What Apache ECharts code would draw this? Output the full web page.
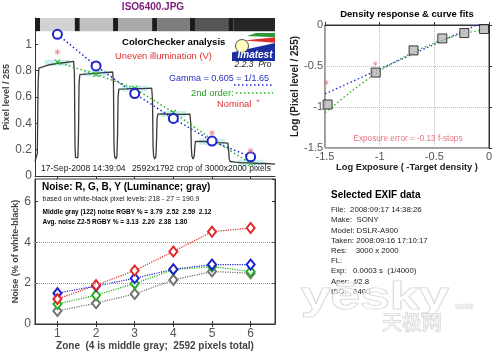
<!DOCTYPE html>
<html>
<head>
<meta charset="utf-8">
<script src="https://cdn.jsdelivr.net/npm/echarts@6/dist/echarts.min.js"></script>
<style>
html,body{margin:0;padding:0;background:#fff;}
#chart{width:500px;height:352px;}
</style>
</head>
<body>
<div id="chart"></div>
<script>
// ---- data ----
const zones = [1, 2, 3, 4, 5, 6];
// top-left: pixel level / 255
const gammaPts = [1.076, 0.836, 0.626, 0.437, 0.265, 0.146];
const secondPts = [0.864, 0.773, 0.664, 0.482, 0.278, 0.096];
const nominalPts = [0.942, null, null, null, 0.328, 0.192];
const patchLevels = [0.86, 0.78, 0.665, 0.47, 0.26, 0.10];
const profile = [
  [0.42,0.11],[0.45,0.12],[0.48,0.17],[0.50,0.70],[0.52,0.82],[0.56,0.835],[0.8,0.845],[1.0,0.855],[1.2,0.862],[1.42,0.87],
  [1.44,0.78],[1.455,0.22],[1.47,0.14],[1.50,0.125],[1.53,0.14],[1.545,0.30],[1.56,0.70],[1.58,0.77],[1.8,0.775],[2.0,0.78],[2.2,0.785],[2.43,0.79],
  [2.45,0.70],[2.465,0.22],[2.48,0.15],[2.51,0.13],[2.54,0.15],[2.555,0.30],[2.57,0.60],[2.59,0.66],[2.8,0.662],[3.0,0.665],[3.2,0.664],[3.44,0.667],
  [3.46,0.58],[3.475,0.22],[3.49,0.15],[3.52,0.13],[3.55,0.15],[3.565,0.28],[3.58,0.44],[3.60,0.47],[3.8,0.472],[4.0,0.47],[4.2,0.468],[4.43,0.47],
  [4.45,0.40],[4.465,0.22],[4.48,0.15],[4.51,0.13],[4.54,0.15],[4.555,0.22],[4.57,0.262],[4.8,0.262],[5.0,0.258],[5.2,0.254],[5.41,0.25],
  [5.43,0.20],[5.445,0.13],[5.47,0.11],[5.6,0.105],[5.8,0.10],[6.0,0.10],[6.2,0.095],[6.4,0.095],[6.63,0.09]
];
// gray strip on top (zone units)
const stripEdges = [0.42, 0.55, 1.45, 1.58, 2.44, 2.57, 3.45, 3.58, 4.43, 4.56, 5.42, 5.55, 6.63];
const stripGrays = ['#1c1c1c','#d2d2d2','#1c1c1c','#c0c0c0','#1c1c1c','#a9a9a9','#1c1c1c','#7e7e7e','#1c1c1c','#565656','#1c1c1c','#262626'];

// noise (% of white-black)
const noiseR = [1.22, 1.90, 2.62, 3.55, 4.52, 4.70];
const noiseB = [1.51, 1.86, 2.24, 2.68, 2.91, 2.91];
const noiseG = [0.98, 1.41, 1.98, 2.66, 2.81, 2.57];
const noiseY = [0.64, 1.02, 1.47, 2.16, 2.57, 2.49];
const noiseGrid = [2, 4];

// density response
const densX = [-1.476, -1.036, -0.69, -0.427, -0.226, -0.045];
const densY = [-0.97, -0.58, -0.31, -0.164, -0.098, -0.049];
const densNominal = [[-1.49, -0.70], [-1.04, -0.47]];
const densGamma = [[-1.5, -0.84], [0, 0.067]];
const densSecond = [[-1.5,-1.07],[-1.25,-0.80],[-1.0,-0.56],[-0.75,-0.37],[-0.5,-0.22],[-0.25,-0.11],[0,-0.045]];

const exifLines = [
  'File:  2008:09:17 14:38:26',
  'Make:  SONY',
  'Model: DSLR-A900',
  'Taken: 2008:09:16 17:10:17',
  'Res:    3000 x 2000',
  'FL:',
  'Exp:   0.0003 s  (1/4000)',
  'Aper:  f/2.8',
  'ISO:   6400'
];

// ---- chart ----
const FONT = 'Liberation Sans, Arial, sans-serif';
const ASTER = 'path://M4.4,0h1.2v10h-1.2z M0,4.4h10v1.2h-10z M0.9,1.7L1.7,0.9L9.1,8.3L8.3,9.1z M0.9,8.3L8.3,0.9L9.1,1.7L1.7,9.1z';
const XMARK = 'path://M0,1.2L1.2,0L10,8.8L8.8,10z M0,8.8L8.8,0L10,1.2L1.2,10z';

function txt(x, y, s, font, fill, align, extra) {
  const el = {
    type: 'text', x: x, y: y, z: 100, silent: true,
    style: { text: s, font: font, fill: fill || '#000', textAlign: align || 'left', textVerticalAlign: 'middle' }
  };
  if (extra) {
    Object.assign(el.style, extra.style || {});
    delete extra.style;
    Object.assign(el, extra);
  }
  return el;
}

const chart = echarts.init(document.getElementById('chart'), null, { renderer: 'canvas' });

const stripAreas = [];
for (let i = 0; i < stripGrays.length; i++) {
  stripAreas.push([
    { xAxis: stripEdges[i], yAxis: 1.1, itemStyle: { color: stripGrays[i] } },
    { xAxis: stripEdges[i + 1], yAxis: 1.2 }
  ]);
}
const bandData = [];
zones.forEach((z, i) => {
  bandData.push([z - 0.33, patchLevels[i]], [z + 0.33, patchLevels[i]], [z + 0.34, null]);
});

const axLabel = { color: '#555', fontFamily: FONT, fontSize: 12 };
const axLine = { show: true, lineStyle: { color: '#333', width: 1 } };

const graphics = [
  txt(153, 7, 'ISO6400.JPG', 'bold 10px ' + FONT, '#7a207a', 'center'),
  txt(122, 42, 'ColorChecker analysis', 'bold 9.6px ' + FONT, '#000'),
  txt(115, 56, 'Uneven illumination (V)', '9.4px ' + FONT, '#e03030'),
  txt(169, 78.5, 'Gamma = 0.605 = 1/1.65', '9px ' + FONT, '#2030c0'),
  { type: 'line', z: 100, shape: { x1: 234, y1: 85, x2: 273, y2: 85 }, style: { stroke: '#2525d0', lineWidth: 1.5, lineDash: [1.5, 2.5] } },
  txt(191, 93, '2nd order:', '9.4px ' + FONT, '#25a025'),
  { type: 'line', z: 100, shape: { x1: 236, y1: 93, x2: 273, y2: 93 }, style: { stroke: '#25b025', lineWidth: 1.5, lineDash: [1.5, 2.5] } },
  txt(217, 104, 'Nominal', '9.4px ' + FONT, '#e03030'),
  txt(258, 103, '*', '9px ' + FONT, '#e07070', 'center'),
  txt(41, 168.5, '17-Sep-2008 14:39:04', '8.5px ' + FONT, '#222'),
  txt(132, 168.5, '2592x1792 crop of 3000x2000 pixels', '8.5px ' + FONT, '#222'),
  // logo
  { type: 'rect', z: 100, shape: { x: 232, y: 33, width: 43, height: 28 }, style: { fill: '#1b2ea0' } },
  { type: 'polygon', z: 101, shape: { points: [[232, 33], [275, 33], [275, 43], [232, 52.5]] }, style: { fill: '#fff' } },
  { type: 'polygon', z: 102, shape: { points: [[247, 36], [256, 33], [275, 33], [275, 37.3]] }, style: { fill: '#2c9a3a' } },
  { type: 'polygon', z: 102, shape: { points: [[244, 40.5], [275, 37.3], [275, 42.7]] }, style: { fill: '#d8322a' } },
  { type: 'circle', z: 103, shape: { cx: 242, cy: 46, r: 6.5 }, style: { fill: '#fffcc0', stroke: '#222', lineWidth: 0.8 } },
  txt(255, 55.5, 'Imatest', 'italic bold 10px ' + FONT, '#fff', 'center', { z: 104 }),
  txt(253, 65, '2.2.3  Pro', 'italic 8.5px ' + FONT, '#222', 'center'),
  // noise text
  txt(42, 187.5, 'Noise: R, G, B, Y (Luminance; gray)', 'bold 10px ' + FONT, '#000'),
  txt(42.5, 199.5, 'based on white-black pixel levels: 218 - 27 = 190.9', '7px ' + FONT, '#222'),
  txt(42.5, 212, 'Middle gray (122) noise RGBY % = 3.79  2.52  2.59  2.12', 'bold 6.5px ' + FONT, '#000'),
  txt(42.5, 222.5, 'Avg. noise Z2-5 RGBY % = 3.13  2.20  2.38  1.80', 'bold 6.5px ' + FONT, '#000'),
  // density text
  txt(407, 14, 'Density response & curve fits', 'bold 9.5px ' + FONT, '#000', 'center'),
  txt(408, 139, 'Exposure error = -0.13 f-stops', '8.2px ' + FONT, '#e87080', 'center'),
  // EXIF
  txt(331, 195, 'Selected EXIF data', 'bold 10px ' + FONT, '#000')
];
exifLines.forEach((s, i) => {
  graphics.push(txt(331, 210 + i * 10.2, s, '7.8px ' + FONT, '#222'));
});
// watermark
graphics.push(txt(301, 299, 'yēsky', 'bold 38px ' + FONT, 'rgba(255,255,255,0.55)', 'left',
  { z: 200, scaleX: 1.4, originX: 0, originY: 0, style: { stroke: '#d2d2d2', lineWidth: 1 } }));
graphics.push(txt(455, 307, 'com', 'bold 9px ' + FONT, 'rgba(255,255,255,0.55)', 'left',
  { z: 200, style: { stroke: '#d2d2d2', lineWidth: 0.7 } }));
graphics.push(txt(412, 322, '天极网', '20px Noto Sans CJK SC', 'rgba(255,255,255,0.55)', 'center',
  { z: 200, style: { stroke: '#d2d2d2', lineWidth: 1 } }));

const option = {
  animation: false,
  backgroundColor: '#fff',
  textStyle: { fontFamily: FONT },
  grid: [
    { left: 35, top: 18, width: 240, height: 158 },
    { left: 35, top: 179, width: 240, height: 145, show: true, borderColor: '#333', borderWidth: 1 },
    { left: 325, top: 25, width: 164, height: 123, show: true, borderColor: '#333', borderWidth: 1 }
  ],
  xAxis: [
    { gridIndex: 0, type: 'value', min: 0.42, max: 6.63, axisLine: axLine,
      axisTick: { show: true, customValues: zones, length: 3, lineStyle: { color: '#333' } },
      axisLabel: { show: false }, splitLine: { show: false } },
    { gridIndex: 1, type: 'value', min: 0.42, max: 6.63, axisLine: axLine,
      axisTick: { show: true, inside: true, customValues: zones, length: 3, lineStyle: { color: '#333' } },
      axisLabel: Object.assign({ customValues: zones, margin: 4 }, axLabel), splitLine: { show: false },
      name: 'Zone  (4 is middle gray;  2592 pixels total)', nameLocation: 'middle', nameGap: 16,
      nameTextStyle: { fontWeight: 'bold', fontSize: 10, color: '#444', fontFamily: FONT } },
    { gridIndex: 1, type: 'value', position: 'top', min: 0.42, max: 6.63, axisLine: axLine,
      axisTick: { show: true, inside: true, customValues: zones, length: 3, lineStyle: { color: '#333' } },
      axisLabel: { show: false }, splitLine: { show: false } },
    { gridIndex: 2, type: 'value', min: -1.5, max: 0, interval: 0.5, axisLine: axLine,
      axisTick: { show: true, inside: true, length: 3, lineStyle: { color: '#333' } },
      axisLabel: Object.assign({}, axLabel, { fontSize: 11, margin: 3 }),
      splitLine: { show: true, lineStyle: { color: '#bbb', type: 'dotted' } },
      name: 'Log Exposure ( -Target density )', nameLocation: 'middle', nameGap: 15,
      nameTextStyle: { fontWeight: 'bold', fontSize: 9.3, color: '#222', fontFamily: FONT } }
  ],
  yAxis: [
    { gridIndex: 0, type: 'value', min: 0, max: 1.2, interval: 0.2, axisLine: axLine,
      axisTick: { show: true, inside: true, length: 3, lineStyle: { color: '#333' } },
      axisLabel: Object.assign({ margin: 3, formatter: v => v > 1.1 ? '' : String(+v.toFixed(1)) }, axLabel),
      splitLine: { show: false },
      name: 'Pixel level / 255', nameLocation: 'middle', nameGap: 20,
      nameTextStyle: { fontWeight: 'bold', fontSize: 9, color: '#444', fontFamily: FONT } },
    { gridIndex: 1, type: 'value', min: 0, max: 7.1, interval: 2, axisLine: axLine,
      axisTick: { show: true, inside: true, length: 3, lineStyle: { color: '#333' } },
      axisLabel: Object.assign({ margin: 4, showMaxLabel: false }, axLabel), splitLine: { show: false },
      name: 'Noise (% of white-black)', nameLocation: 'middle', nameGap: 14,
      nameTextStyle: { fontWeight: 'bold', fontSize: 9, color: '#444', fontFamily: FONT } },
    { gridIndex: 1, type: 'value', position: 'right', min: 0, max: 7.1, interval: 2, axisLine: axLine,
      axisTick: { show: true, inside: true, length: 3, lineStyle: { color: '#333' } },
      axisLabel: { show: false }, splitLine: { show: false } },
    { gridIndex: 2, type: 'value', min: -1.5, max: 0, interval: 0.5, axisLine: axLine,
      axisTick: { show: true, inside: true, length: 3, lineStyle: { color: '#333' } },
      axisLabel: Object.assign({}, axLabel, { fontSize: 11, margin: 2 }),
      splitLine: { show: true, lineStyle: { color: '#bbb', type: 'dotted' } },
      name: 'Log (Pixel level / 255)', nameLocation: 'middle', nameGap: 22,
      nameTextStyle: { fontWeight: 'bold', fontSize: 10, color: '#222', fontFamily: FONT } }
  ],
  graphic: graphics,
  series: [
    // ---- top-left ----
    { type: 'line', xAxisIndex: 0, yAxisIndex: 0, data: [], silent: true,
      markArea: { silent: true, data: stripAreas } },
    { type: 'line', xAxisIndex: 0, yAxisIndex: 0, data: bandData, symbol: 'none', connectNulls: false,
      lineStyle: { color: 'rgba(140,225,225,0.45)', width: 6 }, silent: true, z: 1 },
    { type: 'line', xAxisIndex: 0, yAxisIndex: 0, data: profile, symbol: 'none',
      lineStyle: { color: '#3a3a3a', width: 1.3 }, silent: true },
    { type: 'line', xAxisIndex: 0, yAxisIndex: 0, data: zones.map((z, i) => [z, secondPts[i]]),
      symbol: XMARK, symbolSize: 6, itemStyle: { color: '#25b025' },
      lineStyle: { color: '#25b025', width: 1.5, type: [1.5, 2.5] }, z: 3 },
    { type: 'line', xAxisIndex: 0, yAxisIndex: 0, data: zones.map((z, i) => [z, gammaPts[i]]),
      symbol: 'emptyCircle', symbolSize: 9, itemStyle: { color: '#2222d0', borderWidth: 2 },
      lineStyle: { color: '#2525d0', width: 1.5, type: [1.5, 2.5] }, z: 4 },
    { type: 'scatter', xAxisIndex: 0, yAxisIndex: 0, data: zones.map((z, i) => [z, nominalPts[i]]),
      symbol: ASTER, symbolSize: 6, itemStyle: { color: '#e07070' }, z: 5 },
    // ---- noise ----
    { type: 'line', xAxisIndex: 1, yAxisIndex: 1, data: zones.map((z, i) => [z, noiseY[i]]),
      symbol: 'emptyDiamond', symbolSize: [8, 10], itemStyle: { color: '#707070', borderWidth: 1.5 },
      lineStyle: { color: '#707070', width: 1.2, type: 'dotted' },
      markLine: { silent: true, symbol: 'none', label: { show: false },
        lineStyle: { color: '#999', type: 'dotted', width: 1 }, data: noiseGrid.map(v => ({ yAxis: v })) } },
    { type: 'line', xAxisIndex: 1, yAxisIndex: 1, data: zones.map((z, i) => [z, noiseG[i]]),
      symbol: 'emptyDiamond', symbolSize: [8, 10], itemStyle: { color: '#22b022', borderWidth: 1.5 },
      lineStyle: { color: '#22b022', width: 1.2, type: 'dotted' } },
    { type: 'line', xAxisIndex: 1, yAxisIndex: 1, data: zones.map((z, i) => [z, noiseB[i]]),
      symbol: 'emptyDiamond', symbolSize: [8, 10], itemStyle: { color: '#2020d0', borderWidth: 1.5 },
      lineStyle: { color: '#2020d0', width: 1.2, type: 'dotted' } },
    { type: 'line', xAxisIndex: 1, yAxisIndex: 1, data: zones.map((z, i) => [z, noiseR[i]]),
      symbol: 'emptyDiamond', symbolSize: [8, 10], itemStyle: { color: '#e02828', borderWidth: 1.5 },
      lineStyle: { color: '#e02828', width: 1.2, type: 'dotted' } },
    // ---- density ----
    { type: 'line', xAxisIndex: 3, yAxisIndex: 3, data: densGamma, symbol: 'none', clip: true,
      lineStyle: { color: '#2525d0', width: 1.3, type: [1.5, 2.5] } },
    { type: 'line', xAxisIndex: 3, yAxisIndex: 3, data: densSecond, symbol: 'none', smooth: 0.3, clip: true,
      lineStyle: { color: '#25b025', width: 1.3, type: [1.5, 2.5] } },
    { type: 'scatter', xAxisIndex: 3, yAxisIndex: 3, data: densNominal,
      symbol: ASTER, symbolSize: 5, itemStyle: { color: '#e08080' } },
    { type: 'scatter', xAxisIndex: 3, yAxisIndex: 3, data: densX.map((x, i) => [x, densY[i]]),
      symbol: 'rect', symbolSize: 9, itemStyle: { color: '#b8b8b8', borderColor: '#111', borderWidth: 1 }, z: 5 }
  ]
};
chart.setOption(option);
window.addEventListener('resize', function () { chart.resize(); });
</script>
</body>
</html>
